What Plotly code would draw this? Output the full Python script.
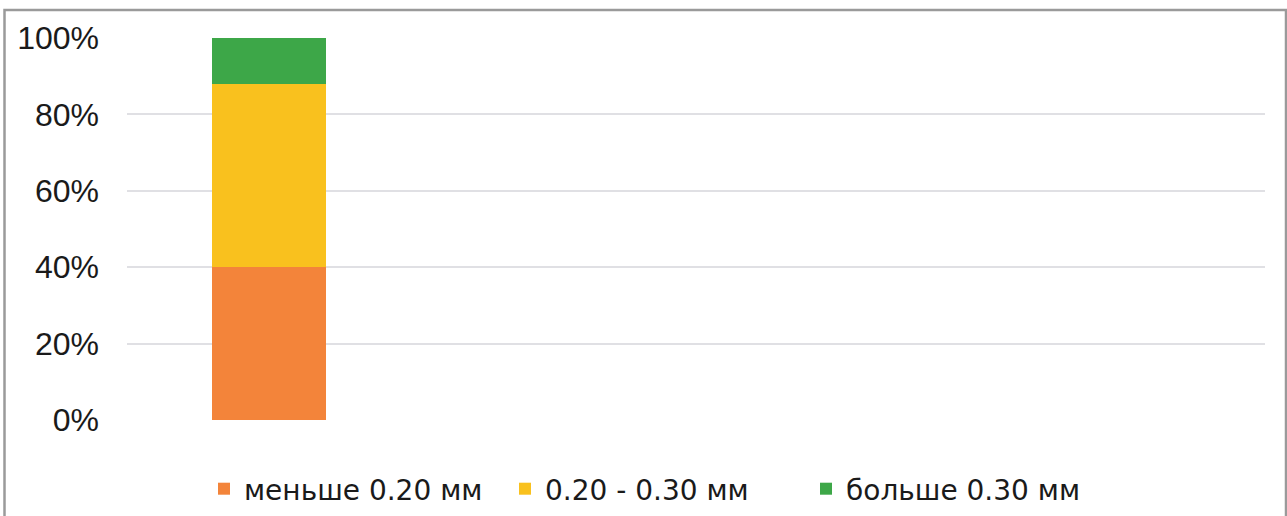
import plotly.graph_objects as go

categories = [1, 2, 3, 4]
series_names = ["меньше 0.20 мм", "0.20 - 0.30 мм", "больше 0.30 мм"]
less_020 = [0.40, None, None, None]
mid_020_030 = [0.48, None, None, None]
more_030 = [0.12, None, None, None]
tick_vals = [0, 0.2, 0.4, 0.6, 0.8, 1.0]
tick_text = ["0%", "20%", "40%", "60%", "80%", "100%"]

colors = ["#F3843A", "#F9C11E", "#3DA748"]
series = [less_020, mid_020_030, more_030]

fig = go.Figure()
for name, vals, col in zip(series_names, series, colors):
    fig.add_trace(go.Bar(x=categories, y=vals, name=name,
                         marker=dict(color=col, line=dict(width=0)),
                         width=0.4))

W, H = 1287, 516
L, R, T, B = 127, 22, 38, 96
pw = W - L - R
ph = H - T - B

def px_to_fx(px):
    return (px - L) / pw

def py_to_fy(py):
    return (H - B - py) / ph

fig.add_shape(type="rect", xref="paper", yref="paper",
              x0=px_to_fx(4.5), x1=px_to_fx(1286), y0=py_to_fy(530), y1=py_to_fy(10),
              line=dict(color="#9A9A9A", width=2.5), fillcolor="rgba(0,0,0,0)", layer="above")

fig.update_layout(
    width=W, height=H,
    margin=dict(l=L, r=R, t=T, b=B, pad=0, autoexpand=False),
    barmode="stack",
    paper_bgcolor="white", plot_bgcolor="white",
    font=dict(family="Liberation Sans, Arial, sans-serif", color="#1A1A1A"),
    showlegend=True,
    legend=dict(orientation="h", x=px_to_fx(204), xanchor="left",
                y=py_to_fy(489), yanchor="middle", traceorder="normal",
                entrywidth=256, entrywidthmode="pixels",
                font=dict(family="DejaVu Sans", size=28, color="#1A1A1A"),
                bgcolor="rgba(0,0,0,0)"),
    xaxis=dict(range=[0.5, 4.5], showticklabels=False, showgrid=False,
               zeroline=False, showline=False, ticks=""),
    yaxis=dict(range=[0, 1], tickvals=tick_vals, ticktext=tick_text,
               showgrid=True, gridcolor="#E0E0E4", gridwidth=1.5,
               zeroline=False, showline=False, ticks="",
               tickfont=dict(size=32, family="Liberation Sans, Arial", color="#1A1A1A"),
               ticklabelstandoff=27),
)

fig.write_html("out.html")
